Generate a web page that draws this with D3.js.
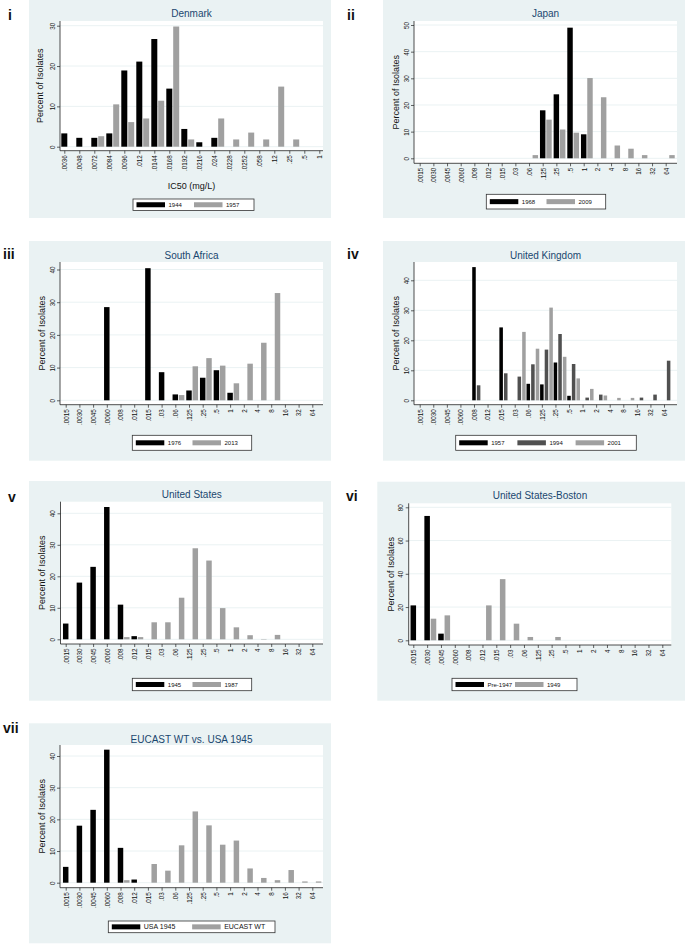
<!DOCTYPE html>
<html><head><meta charset="utf-8">
<script src="https://cdn.jsdelivr.net/npm/d3@7"></script>
<style>
body{margin:0;background:#fff}
svg{display:block}
text{font-family:"Liberation Sans",Arial,Helvetica,sans-serif}
</style>
</head><body>
<svg id="c" width="685" height="944"></svg>
<script>
// ---------- DATA ----------
const catsDenmark = [".0036",".0048",".0072",".0084",".0096",".012",".0144",".0168",".0192",".0216",".024",".0228",".0252",".058",".12",".25",".5","1"];
const catsMIC = [".0015",".0030",".0045",".0060",".008",".012",".015",".03",".06",".125",".25",".5","1","2","4","8","16","32","64"];

const denmark1944 = [3.3,2.2,2.2,3.3,18.9,21.1,26.7,14.4,4.4,1.1,2.2,0,0,0,0,0,0,0];
const denmark1957 = [0,0,2.6,10.5,6.1,7.0,11.4,29.8,1.8,0,7.0,1.8,3.5,1.8,14.9,1.8,0,0];

const japan1968 = [0,0,0,0,0,0,0,0,0,18,24,49,9,0,0,0,0,0,0];
const japan2009 = [0,0,0,0,0,0,0,0,1.2,14.5,10.8,9.6,30.1,22.9,4.8,3.6,1.2,0,1.2];

const southAfrica1976 = [0,0,0,28.5,0,0,40.4,8.6,1.8,3.0,6.9,9.2,2.3,0,0,0,0,0,0];
const southAfrica2013 = [0,0,0,0,0,0,0,0,1.6,10.4,12.9,10.6,5.2,11.2,17.6,32.8,0,0,0];

const uk1957 = [0,0,0,0,44.4,0,24.3,0,5.5,5.3,12.6,1.5,0,0,0,0,0,0,0];
const uk1994 = [0,0,0,0,5.0,0,9.0,7.9,12.0,16.9,22.1,12.1,0.9,1.9,0,0,0.9,1.9,13.2];
const uk2001 = [0,0,0,0,0,0,0,22.8,17.2,30.9,14.5,7.3,3.8,1.6,0.8,0.8,0,0,0];

const us1945 = [5,18,23,42,11,1,0,0,0,0,0,0,0,0,0,0,0,0,0];
const us1987 = [0,0,0,0,0.7,0.7,5.4,5.4,13.2,28.9,25.0,9.9,3.8,1.3,0.1,1.4,0,0,0];

const bostonPre1947 = [21,74.8,4,0,0,0,0,0,0,0,0,0,0,0,0,0,0,0,0];
const boston1949 = [0,13,15,0,0,21,36.8,10,2,0,2,0,0,0,0,0,0,0,0];

const eucastWT = [0,0,0,0,0.8,0,5.9,3.8,11.8,22.5,18.1,12.0,13.3,4.5,1.5,0.8,4.0,0.4,0.4];

const ticks30 = [0,10,20,30];
const ticks40 = [0,10,20,30,40];
const ticks50 = [0,10,20,30,40,50];
const ticks80 = [0,20,40,60,80];

// ---------- STYLE / LAYOUT ----------
const BLACK = "#000000", GRAY = "#a0a0a0", DARK = "#505050";
const BG = "#eaf2f3", TITLE = "#1a476f";

const panels = [
  {label:"i", title:"Denmark", cats:catsDenmark, yTicks:ticks30, xTitle:"IC50 (mg/L)",
   series:[{name:"1944",values:denmark1944,color:BLACK},{name:"1957",values:denmark1957,color:GRAY}],
   L:{bg:[29,0,331,218], lab:[8,20], axX:60, right:323, top:21, zeroY:146.7, topY:25.7, axY:150.7, first:64.3, last:319.3,
      titleY:17, yTitleX:40, xTitleY:189, leg:[133,199,254,210.5]}},
  {label:"ii", title:"Japan", cats:catsMIC, yTicks:ticks50,
   series:[{name:"1968",values:japan1968,color:BLACK},{name:"2009",values:japan2009,color:GRAY}],
   L:{bg:[383,0,685,218], lab:[347,20], axX:414, right:677, top:21, zeroY:158.3, topY:25, axY:163.3, first:419.7, last:665.7,
      titleY:17, yTitleX:396.3, leg:[486.3,194.3,605.7,209]}},
  {label:"iii", title:"South Africa", cats:catsMIC, yTicks:ticks40,
   series:[{name:"1976",values:southAfrica1976,color:BLACK},{name:"2013",values:southAfrica2013,color:GRAY}],
   L:{bg:[29,241,331,460.7], lab:[3,259], axX:60, right:323, top:262, zeroY:400.3, topY:269.5, axY:404.7, first:65.7, last:312.3,
      titleY:259, yTitleX:42.3, leg:[132.3,435.3,251.7,450.3]}},
  {label:"iv", title:"United Kingdom", cats:catsMIC, yTicks:ticks40,
   series:[{name:"1957",values:uk1957,color:BLACK},{name:"1994",values:uk1994,color:DARK},{name:"2001",values:uk2001,color:GRAY}],
   L:{bg:[383,241,685,460.7], lab:[347,259], axX:414, right:677, top:262, zeroY:400.3, topY:280.3, axY:404.7, first:419.7, last:664,
      titleY:259, yTitleX:396.3, leg:[455.7,435.3,636.3,450.3]}},
  {label:"v", title:"United States", cats:catsMIC, yTicks:ticks40,
   series:[{name:"1945",values:us1945,color:BLACK},{name:"1987",values:us1987,color:GRAY}],
   L:{bg:[29,481,331,700.7], lab:[8,502], axX:60.5, right:323, top:501.7, zeroY:639.3, topY:513.3, axY:644, first:65.7, last:312.3,
      titleY:498, yTitleX:42.3, leg:[132.3,678.3,251.7,690.7]}},
  {label:"vi", title:"United States-Boston", cats:catsMIC, yTicks:ticks80,
   series:[{name:"Pre-1947",values:bostonPre1947,color:BLACK},{name:"1949",values:boston1949,color:GRAY}],
   L:{bg:[377.3,481.7,685,700.7], lab:[346,501], axX:408.7, right:671.3, top:503.3, zeroY:640.3, topY:507.3, axY:645, first:413.3, last:662.3,
      titleY:499.3, yTitleX:390.7, leg:[452,678.3,577,690.7]}},
  {label:"vii", title:"EUCAST WT vs. USA 1945", cats:catsMIC, yTicks:ticks40,
   series:[{name:"USA 1945",values:us1945,color:BLACK},{name:"EUCAST WT",values:eucastWT,color:GRAY}],
   L:{bg:[29,723.3,331,943.3], lab:[3,733], axX:60, right:323, top:745, zeroY:882.7, topY:756, axY:887.7, first:65.7, last:312.3,
      titleY:743, yTitleX:42.3, leg:[108.3,921,275,932.7]}}
];

const svg = d3.select("#c");

panels.forEach(p => {
  const L = p.L;
  const g = svg.append("g");
  // background
  g.append("rect").attr("x",L.bg[0]).attr("y",L.bg[1]).attr("width",L.bg[2]-L.bg[0]).attr("height",L.bg[3]-L.bg[1]).attr("fill",BG);
  // panel label
  svg.append("text").attr("x",L.lab[0]).attr("y",L.lab[1]).attr("font-size",14).attr("font-weight","bold").attr("fill","#111").text(p.label);
  // plot region
  g.append("rect").attr("x",L.axX).attr("y",L.top).attr("width",L.right-L.axX).attr("height",L.axY-L.top).attr("fill","#fff");

  const yMaxTick = p.yTicks[p.yTicks.length-1];
  const y = d3.scaleLinear().domain([0,yMaxTick]).range([L.zeroY,L.topY]);
  const x = d3.scalePoint().domain(p.cats).range([L.first,L.last]);
  const step = (L.last-L.first)/(p.cats.length-1);
  const ns = p.series.length;
  const bw = ns===2 ? step*0.40 : step*0.26;
  const off = ns===2 ? step*0.46 : step*0.34;

  // gridlines
  g.selectAll(null).data(p.yTicks).join("line")
    .attr("x1",L.axX).attr("x2",L.right).attr("y1",d=>y(d)).attr("y2",d=>y(d))
    .attr("stroke",BG).attr("stroke-width",1);

  // bars
  p.series.forEach((s,si) => {
    const data = p.cats.map((c,i)=>({c, v:s.values[i]})).filter(d=>d.v>0);
    g.selectAll(null).data(data).join("rect")
      .attr("x",d=>x(d.c)+si*off-bw/2)
      .attr("y",d=>y(d.v))
      .attr("width",bw)
      .attr("height",d=>Math.max(0.4,y(0)-y(d.v)))
      .attr("fill",s.color);
  });

  // y axis
  const ya = g.append("g").attr("transform",`translate(${L.axX},0)`)
    .call(d3.axisLeft(y).tickValues(p.yTicks).tickSize(3).tickPadding(0).tickFormat(d3.format("d")));
  ya.select(".domain").attr("d",`M0,${L.top}V${L.axY}`).attr("stroke","#222").attr("stroke-width",0.8);
  ya.selectAll(".tick line").attr("stroke","#222").attr("stroke-width",0.7);
  ya.selectAll(".tick text").attr("font-size",6.3).attr("fill","#111")
    .attr("text-anchor","middle").attr("x",null).attr("dy",null)
    .attr("transform","translate(-5.5,0) rotate(-90)");

  // x axis
  const xa = g.append("g").attr("transform",`translate(0,${L.axY})`)
    .call(d3.axisBottom(x).tickSize(3).tickPadding(0));
  xa.select(".domain").attr("d",`M${L.axX},0H${L.right}`).attr("stroke","#222").attr("stroke-width",0.8);
  xa.selectAll(".tick line").attr("stroke","#222").attr("stroke-width",0.7);
  xa.selectAll(".tick text").attr("font-size",6.3).attr("fill","#111")
    .attr("text-anchor","end").attr("y",null).attr("dy",null)
    .attr("transform","translate(2.3,4.5) rotate(-90)");

  // title
  g.append("text").attr("x",(L.axX+L.right)/2).attr("y",L.titleY).attr("text-anchor","middle")
    .attr("font-size",10).attr("fill",TITLE).text(p.title);
  // y title
  g.append("text").attr("transform",`translate(${L.yTitleX+3},${(L.top+L.axY)/2}) rotate(-90)`)
    .attr("text-anchor","middle").attr("font-size",9).attr("fill","#111").text("Percent of Isolates");
  if (p.xTitle) {
    g.append("text").attr("x",(L.axX+L.right)/2).attr("y",L.xTitleY).attr("text-anchor","middle")
      .attr("font-size",9).attr("fill","#111").text(p.xTitle);
  }

  // legend
  const lg = L.leg;
  g.append("rect").attr("x",lg[0]).attr("y",lg[1]).attr("width",lg[2]-lg[0]).attr("height",lg[3]-lg[1])
    .attr("fill","#fff").attr("stroke","#333").attr("stroke-width",0.8);
  const lw = lg[2]-lg[0];
  const cy = (lg[1]+lg[3])/2;
  const slot = (lw-6)/ns;
  p.series.forEach((s,si) => {
    const sx = lg[0]+3.5+si*slot;
    g.append("rect").attr("x",sx).attr("y",cy-2.5).attr("width",28.5).attr("height",5).attr("fill",s.color);
    g.append("text").attr("x",sx+32).attr("y",cy+2.2).attr("font-size",p.label==="vii"?7:6)
      .attr("fill","#111").text(s.name);
  });
});
</script>
</body></html>
